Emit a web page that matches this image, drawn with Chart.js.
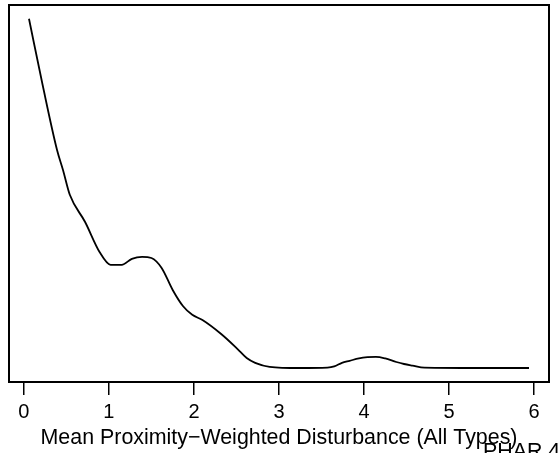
<!DOCTYPE html>
<html>
<head>
<meta charset="utf-8">
<script src="https://cdn.jsdelivr.net/npm/chart.js@4"></script>
<style>
  html, body { margin: 0; padding: 0; background: #fff; }
  #wrap { width: 558px; height: 453px; }
</style>
</head>
<body>
<div id="wrap"><canvas id="densityChart" width="558" height="453"></canvas></div>
<script>
// density curve
var xVals = [0.06, 0.22, 0.39, 0.46, 0.54, 0.72, 0.89, 1.02, 1.15, 1.27, 1.39, 1.50, 1.62,
             1.75, 1.87, 1.98, 2.10, 2.32, 2.51, 2.62, 2.72, 2.89, 3.24, 3.57, 3.65, 3.74,
             3.83, 3.94, 4.04, 4.14, 4.25, 4.38, 4.47, 4.57, 4.71, 5.35, 5.94];
var yVals = [0.873, 0.708, 0.545, 0.495, 0.433, 0.365, 0.290, 0.258, 0.258, 0.273, 0.278, 0.275, 0.250,
             0.195, 0.155, 0.133, 0.120, 0.085, 0.048, 0.025, 0.013, 0.003, 0.000, 0.001, 0.004, 0.013,
             0.018, 0.024, 0.027, 0.028, 0.024, 0.015, 0.010, 0.006, 0.001, 0.000, 0.000];
var xTicks = [0, 1, 2, 3, 4, 5, 6];
var xTitle = 'Mean Proximity\u2212Weighted Disturbance (All Types)';
var cornerText = 'PHAR 4';

var FONT = '"Liberation Sans", Arial, Helvetica, sans-serif';

var points = xVals.map(function (x, i) { return { x: x, y: yVals[i] }; });

// R style box around the plot region + stray label in the corner
var boxPlugin = {
    id: 'rbox',
    afterDraw: function (chart) {
        var a = chart.chartArea, ctx = chart.ctx;
        ctx.save();
        ctx.strokeStyle = '#000';
        ctx.lineWidth = 2;
        ctx.strokeRect(a.left, a.top, a.right - a.left, a.bottom - a.top);
        ctx.fillStyle = '#000';
        ctx.font = '21.4px ' + FONT;
        ctx.textBaseline = 'alphabetic';
        ctx.fillText(cornerText, 483, 458);
        ctx.restore();
    }
};

new Chart(document.getElementById('densityChart').getContext('2d'), {
    type: 'line',
    data: {
        datasets: [{
            data: points,
            borderColor: '#000',
            borderWidth: 1.8,
            pointRadius: 0,
            cubicInterpolationMode: 'monotone',
            fill: false
        }]
    },
    options: {
        responsive: false,
        animation: false,
        layout: { padding: { left: 9, right: 9, top: 5, bottom: 0 } },
        plugins: { legend: { display: false }, tooltip: { enabled: false } },
        scales: {
            x: {
                type: 'linear',
                min: -0.175,
                max: 6.175,
                afterBuildTicks: function (scale) {
                    scale.ticks = xTicks.map(function (v) { return { value: v }; });
                },
                afterFit: function (scale) { scale.height = 71; },
                grid: {
                    drawOnChartArea: false,
                    drawTicks: true,
                    tickLength: 13,
                    color: '#000',
                    lineWidth: 1.5
                },
                border: { display: false },
                ticks: {
                    color: '#000',
                    padding: 5,
                    maxRotation: 0,
                    autoSkip: false,
                    font: { family: FONT, size: 20 }
                },
                title: {
                    display: true,
                    text: xTitle,
                    color: '#000',
                    padding: { top: 0, bottom: 2.2 },
                    font: { family: FONT, size: 21.4 }
                }
            },
            y: {
                display: false,
                min: -0.035,
                max: 0.9075
            }
        }
    },
    plugins: [boxPlugin]
});
</script>
</body>
</html>
